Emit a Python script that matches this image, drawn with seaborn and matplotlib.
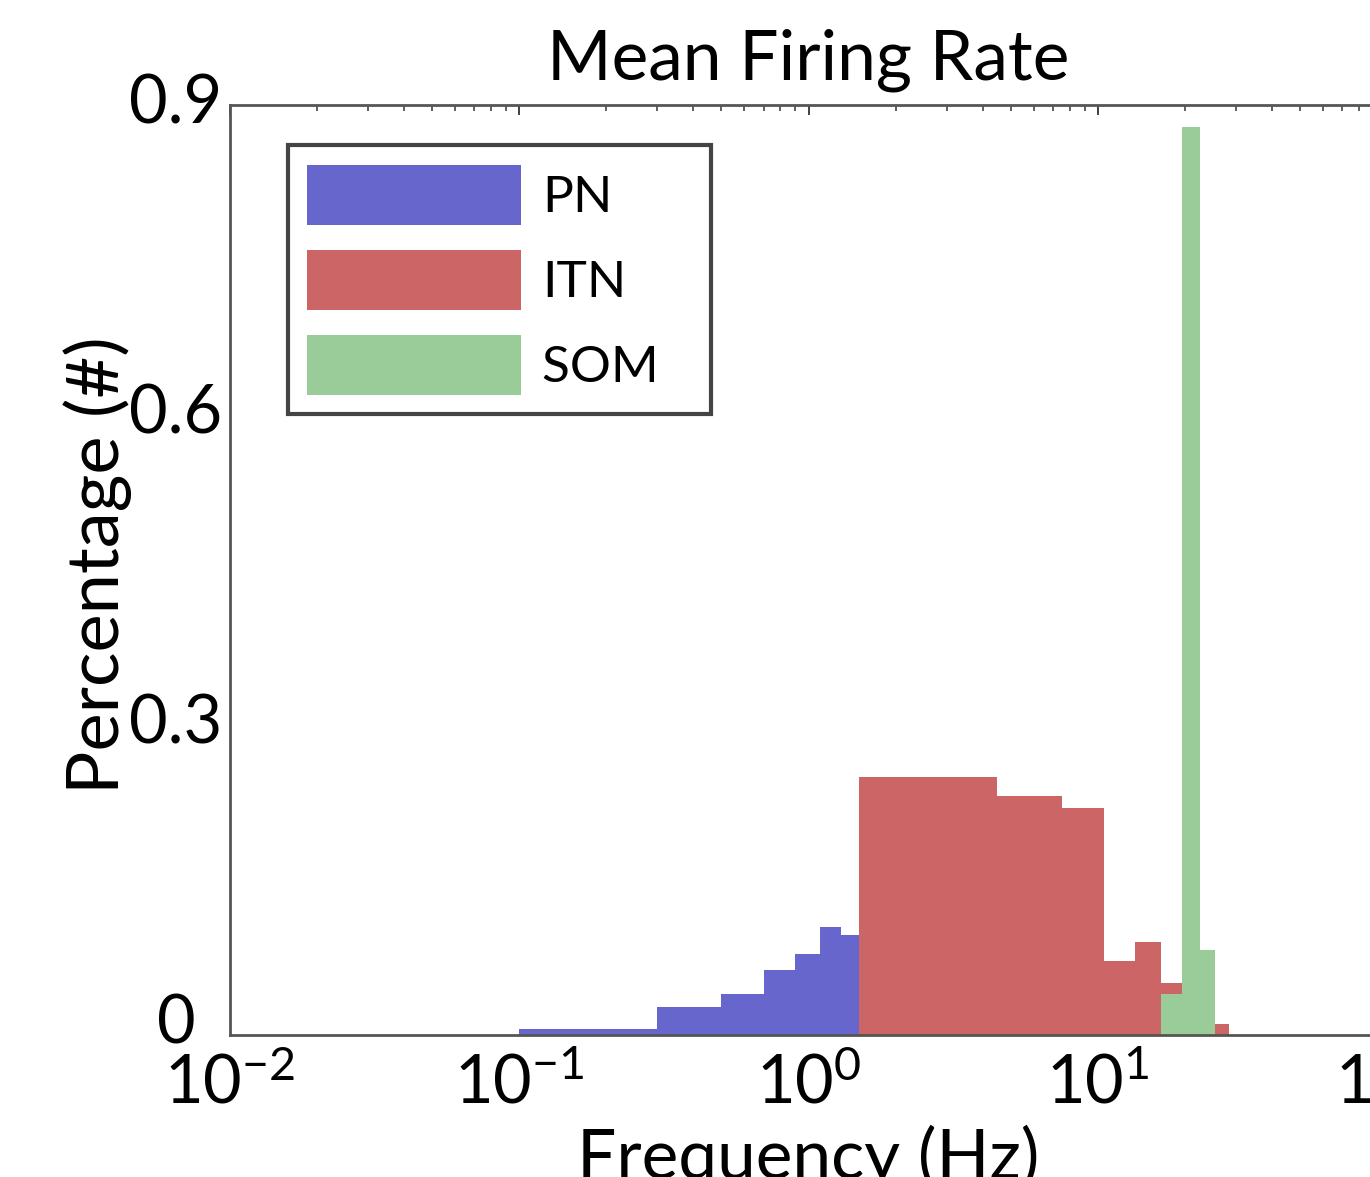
import numpy as np
import pandas as pd
import matplotlib
matplotlib.use("Agg")
import matplotlib.pyplot as plt
import matplotlib.patches as mpatches
import matplotlib.transforms as mtrans
from matplotlib.ticker import LogLocator, MultipleLocator, NullFormatter
import seaborn as sns

# ---- data ----
pn_edges = [0.1, 0.3, 0.5, 0.7, 0.9, 1.1, 1.3, 1.5]
pn_vals = [0.006, 0.027, 0.040, 0.063, 0.078, 0.105, 0.097]

itn_edges = [1.5, 4.5, 7.5, 10.5, 13.5, 16.5, 19.5, 22.5, 25.5, 28.5]
itn_vals = [0.250, 0.231, 0.220, 0.072, 0.090, 0.050, 0.0, 0.0, 0.011]

som_edges = [16.5, 19.5, 22.5, 25.5]
som_vals = [0.040, 0.879, 0.082]

series = ["PN", "ITN", "SOM"]
colors = ["#6666CC", "#CC6666", "#99CC99"]
xtick_vals = [0.01, 0.1, 1, 10, 100]
xtick_labels = [r"$\mathregular{10^{-2}}$", r"$\mathregular{10^{-1}}$",
                r"$\mathregular{10^{0}}$", r"$\mathregular{10^{1}}$",
                r"$\mathregular{10^{2}}$"]
ytick_vals = [0, 0.3, 0.6, 0.9]
ytick_labels = ["0", "0.3", "0.6", "0.9"]

sns.set_theme(style="white")
plt.rcParams["font.family"] = ["Lato", "DejaVu Sans"]
plt.rcParams["mathtext.fontset"] = "custom"
plt.rcParams["mathtext.rm"] = "Lato"
plt.rcParams["text.color"] = "black"
plt.rcParams["axes.labelcolor"] = "black"
plt.rcParams["axes.titlecolor"] = "black"

fig = plt.figure(figsize=(13.70, 11.77), dpi=100)
L, R, B, T = 230, 1387, 1035, 105
W, H = 1370, 1177
ax = fig.add_axes([L / W, 1 - B / H, (R - L) / W, (B - T) / H])

for edges, vals, col, name in zip([pn_edges, itn_edges, som_edges],
                                  [pn_vals, itn_vals, som_vals], colors, series):
    e = list(edges)
    centers = [(a + b) / 2 for a, b in zip(e[:-1], e[1:])]
    df = pd.DataFrame({"freq": centers, "w": list(vals)})
    sns.histplot(data=df, x="freq", weights="w", bins=e, stat="count",
                 color=col, alpha=1, linewidth=0, ax=ax)

ax.set_xscale("log")
ax.set_xlim(0.01, 100)
ax.set_ylim(0, 0.9)

ax.set_xticks(xtick_vals)
ax.set_xticklabels(xtick_labels)
ax.xaxis.set_minor_locator(LogLocator(base=10, subs=np.arange(2, 10)))
ax.xaxis.set_minor_formatter(NullFormatter())
ax.set_yticks(ytick_vals)
ax.set_yticklabels(ytick_labels)
ax.yaxis.set_minor_locator(MultipleLocator(0.1))

ax.tick_params(axis="both", which="both", direction="in", top=True, right=True,
               color="#333333", labelcolor="black")
ax.tick_params(axis="both", which="major", length=7, width=1.3)
ax.tick_params(axis="both", which="minor", length=4, width=1.1)
ax.tick_params(axis="x", which="major", labelsize=48, pad=13)
ax.tick_params(axis="y", which="major", labelsize=48, pad=39)
for i, lab in enumerate(ax.get_yticklabels()):
    lab.set_ha("center")
    up = 16 if i == 0 else 6
    lab.set_transform(lab.get_transform() +
                      mtrans.ScaledTranslation(0, up / 100, fig.dpi_scale_trans))

for sp in ax.spines.values():
    sp.set_color("#555555")
    sp.set_linewidth(2)

ax.set_title("Mean Firing Rate", fontsize=50, pad=18)
ax.set_xlabel("Frequency (Hz)", fontsize=50)
ax.xaxis.set_label_coords(0.5, -0.097)
ax.set_ylabel("Percentage (#)", fontsize=52)
ax.yaxis.set_label_coords(-0.085, 0.505)

handles = [mpatches.Patch(facecolor=c, edgecolor="none", label=n)
           for c, n in zip(colors, series)]
leg_labels = ["PN", "ITN", "SOM  \u2009"]
leg = ax.legend(handles=handles, labels=leg_labels, loc="upper left",
                bbox_to_anchor=(0.050, 0.957),
                borderaxespad=0, fontsize=37, handlelength=4.16, handleheight=1.42,
                handletextpad=0.41, labelspacing=0.49, borderpad=0.38,
                fancybox=False, framealpha=1)
leg.get_frame().set_edgecolor("#444444")
leg.get_frame().set_linewidth(3)

fig.savefig("out.png", dpi=100)
